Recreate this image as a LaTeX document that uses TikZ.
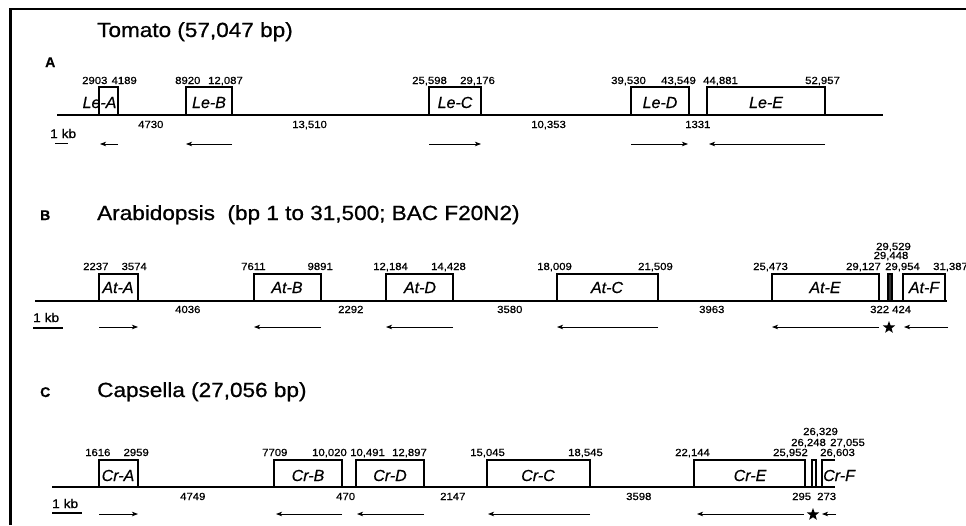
\documentclass[tikz,border=0pt]{standalone}
\usepackage{fontspec}
\setmainfont{Liberation Sans}[FakeStretch=1.1, FakeBold=0.8]
\newfontfamily\plainsans{Liberation Sans}[FakeBold=0.5]
\usetikzlibrary{arrows.meta,shapes.geometric}
\tikzset{
  num/.style={font=\fontsize{10.3}{11}\selectfont, inner sep=0pt},
  genelab/.style={font=\plainsans\itshape\fontsize{16}{17}\selectfont, inner sep=0pt, anchor=base},
  titletext/.style={font=\fontsize{20.5}{22}\selectfont, anchor=base west, inner sep=0pt},
  panellab/.style={font=\plainsans\bfseries\fontsize{14}{15}\selectfont, anchor=base west, inner sep=0pt},
  kbtext/.style={font=\fontsize{12.5}{13}\selectfont, anchor=base west, inner sep=0pt},
  orient/.style={line width=0.8pt, -{Stealth[length=6pt,width=4.5pt,inset=1.5pt]}},
  genebox/.style={line width=1.1pt},
  chrom/.style={line width=1.6pt},
  scalebar/.style={line width=1.4pt},
  framel/.style={line width=2.2pt},
  starmark/.style={star, star points=5, star point ratio=2.4, fill=black, inner sep=0pt, minimum size=13pt}
}
\begin{document}
\begin{tikzpicture}[x=1pt,y=-1pt]
\useasboundingbox (0,0) rectangle (966,525);
% frame
\draw[framel] (10.5,525) -- (10.5,9) -- (966,9);

% ================= Panel A =================
\node[titletext] (titleA) at (97,37) {Tomato (57,047 bp)};
\node[panellab] (letA) at (45,67) {A};
\draw[chrom] (57,115) -- (883,115);
\draw[genebox] (99,115) |- (118,87) -- (118,115);
\draw[genebox] (186,115) |- (232,87) -- (232,115);
\draw[genebox] (429,115) |- (481,87) -- (481,115);
\draw[genebox] (631,115) |- (689,87) -- (689,115);
\draw[genebox] (707,115) |- (825,87) -- (825,115);
\node[genelab] (LeA) at (99.5,108) {Le-A};
\node[genelab] (LeB) at (209,108) {Le-B};
\node[genelab] (LeC) at (455,108) {Le-C};
\node[genelab] (LeD) at (660,108) {Le-D};
\node[genelab] (LeE) at (766,108) {Le-E};
\node[num,anchor=base west] (a1) at (82,84) {2903};
\node[num,anchor=base east] (a2) at (137,84) {4189};
\node[num,anchor=base west] (a3) at (175,84) {8920};
\node[num,anchor=base east] (a4) at (243,84) {12,087};
\node[num,anchor=base west] (a5) at (412,84) {25,598};
\node[num,anchor=base west] (a6) at (460,84) {29,176};
\node[num,anchor=base west] (a7) at (611,84) {39,530};
\node[num,anchor=base west] (a8) at (661,84) {43,549};
\node[num,anchor=base west] (a9) at (703,84) {44,881};
\node[num,anchor=base west] (a10) at (805,84) {52,957};
\node[num,anchor=base west] (ia1) at (138,128) {4730};
\node[num,anchor=base west] (ia2) at (292,128) {13,510};
\node[num,anchor=base west] (ia3) at (531,128) {10,353};
\node[num,anchor=base west] (ia4) at (685,128) {1331};
\node[kbtext] (kbA) at (50,138) {1 kb};
\draw[scalebar] (55,143.5) -- (68,143.5);
\draw[orient] (118,144) -- (100,144);
\draw[orient] (232,144) -- (186,144);
\draw[orient] (429,144) -- (481,144);
\draw[orient] (631,144) -- (688,144);
\draw[orient] (825,144) -- (709,144);

% ================= Panel B =================
\node[panellab] (letB) at (40,220) {B};
\node[titletext] (titleB) at (97,220) {Arabidopsis\ \ (bp 1 to 31,500; BAC F20N2)};
\draw[chrom] (35,301) -- (947,301);
\draw[genebox] (99,301) |- (138,274) -- (138,301);
\draw[genebox] (254,301) |- (321,274) -- (321,301);
\draw[genebox] (386,301) |- (453,274) -- (453,301);
\draw[genebox] (557,301) |- (658,274) -- (658,301);
\draw[genebox] (772,301) |- (879,274) -- (879,301);
\draw[genebox, fill=black!80] (888,301) rectangle (892,274);
\draw[genebox] (903,301) |- (945,274) -- (945,301);
\node[genelab] (AtA) at (118,293) {At-A};
\node[genelab] (AtB) at (287,293) {At-B};
\node[genelab] (AtD) at (420,293) {At-D};
\node[genelab] (AtC) at (607,293) {At-C};
\node[genelab] (AtE) at (825,293) {At-E};
\node[genelab] (AtF) at (924,293) {At-F};
\node[num,anchor=base west] (b1) at (83,270) {2237};
\node[num,anchor=base east] (b2) at (147,270) {3574};
\node[num,anchor=base west] (b3) at (241,270) {7611};
\node[num,anchor=base east] (b4) at (333,270) {9891};
\node[num,anchor=base west] (b5) at (373,270) {12,184};
\node[num,anchor=base east] (b6) at (466,270) {14,428};
\node[num,anchor=base west] (b7) at (537,270) {18,009};
\node[num,anchor=base east] (b8) at (673,270) {21,509};
\node[num,anchor=base west] (b9) at (753,270) {25,473};
\node[num,anchor=base east] (b10) at (881,270) {29,127};
\node[num,anchor=base west] (b11) at (885,270) {29,954};
\node[num,anchor=base west] (b12) at (933,270) {31,387};
\node[num,anchor=base] (b13) at (891,259) {29,448};
\node[num,anchor=base] (b14) at (893.5,250) {29,529};
\node[num,anchor=base west] (ib1) at (175,313) {4036};
\node[num,anchor=base west] (ib2) at (338,313) {2292};
\node[num,anchor=base west] (ib3) at (497,313) {3580};
\node[num,anchor=base west] (ib4) at (699,313) {3963};
\node[num,anchor=base west] (ib5) at (870,313) {322};
\node[num,anchor=base west] (ib6) at (892,313) {424};
\node[kbtext] (kbB) at (33,322) {1 kb};
\draw[scalebar] (33,328) -- (63,328);
\draw[orient] (99,327) -- (138,327);
\draw[orient] (321,327) -- (254,327);
\draw[orient] (453,327) -- (386,327);
\draw[orient] (658,327) -- (557,327);
\draw[orient] (879,327) -- (772,327);
\node[starmark] (starB) at (889,327.5) {};
\draw[orient] (948,327) -- (904,327);

% ================= Panel C =================
\node[panellab] (letC) at (40,397) {C};
\node[titletext] (titleC) at (97,397) {Capsella (27,056 bp)};
\draw[chrom] (52,487) -- (835,487);
\draw[genebox] (99,487) |- (138,460) -- (138,487);
\draw[genebox] (274,487) |- (342,460) -- (342,487);
\draw[genebox] (356,487) |- (424,460) -- (424,487);
\draw[genebox] (487,487) |- (590,460) -- (590,487);
\draw[genebox] (694,487) |- (805,460) -- (805,487);
\draw[genebox] (812,487) |- (816,460) -- (816,487);
\draw[genebox] (822,487) |- (835,460);
\node[genelab] (CrA) at (118,481) {Cr-A};
\node[genelab] (CrB) at (308,481) {Cr-B};
\node[genelab] (CrD) at (390,481) {Cr-D};
\node[genelab] (CrC) at (538,481) {Cr-C};
\node[genelab] (CrE) at (750,481) {Cr-E};
\node[genelab, anchor=base west] (CrF) at (823,481) {Cr-F};
\node[num,anchor=base west] (c1) at (85,456) {1616};
\node[num,anchor=base east] (c2) at (149,456) {2959};
\node[num,anchor=base west] (c3) at (262,456) {7709};
\node[num,anchor=base east] (c4) at (347,456) {10,020};
\node[num,anchor=base west] (c5) at (350,456) {10,491};
\node[num,anchor=base east] (c6) at (427,456) {12,897};
\node[num,anchor=base west] (c7) at (470,456) {15,045};
\node[num,anchor=base east] (c8) at (603,456) {18,545};
\node[num,anchor=base west] (c9) at (675,456) {22,144};
\node[num,anchor=base east] (c10) at (808,456) {25,952};
\node[num,anchor=base west] (c11) at (820,456) {26,603};
\node[num,anchor=base west] (c12) at (791,446) {26,248};
\node[num,anchor=base west] (c13) at (830,446) {27,055};
\node[num,anchor=base west] (c14) at (803,435) {26,329};
\node[num,anchor=base west] (ic1) at (180,500) {4749};
\node[num,anchor=base west] (ic2) at (336,500) {470};
\node[num,anchor=base west] (ic3) at (440,500) {2147};
\node[num,anchor=base west] (ic4) at (626,500) {3598};
\node[num,anchor=base west] (ic5) at (792,500) {295};
\node[num,anchor=base west] (ic6) at (817,500) {273};
\node[kbtext] (kbC) at (52,508) {1 kb};
\draw[scalebar] (52,513) -- (82,513);
\draw[orient] (99,514) -- (138,514);
\draw[orient] (342,514) -- (276,514);
\draw[orient] (424,514) -- (357,514);
\draw[orient] (590,514) -- (488,514);
\draw[orient] (804,514) -- (697,514);
\node[starmark] (starC) at (813,514.5) {};
\draw[orient] (836,514) -- (822,514);
\end{tikzpicture}
\end{document}
